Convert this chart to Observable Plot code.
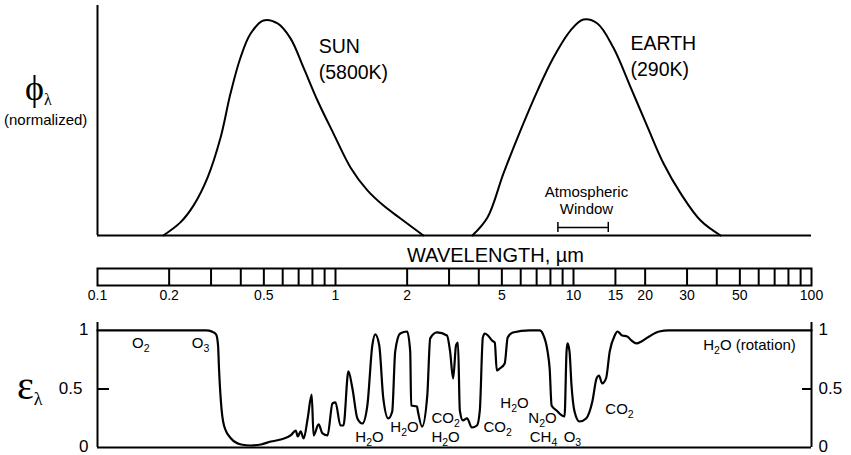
<!DOCTYPE html>
<html><head><meta charset="utf-8">
<script src="https://cdn.jsdelivr.net/npm/d3@7"></script>
<script src="https://cdn.jsdelivr.net/npm/@observablehq/plot@0.6"></script>
<style>
body{margin:0;background:#fff;}
#chart{position:relative;width:851px;height:455px;font-family:"Liberation Sans",Arial,Helvetica,sans-serif;color:#000;overflow:hidden}
#chart svg{display:block}
.lab{position:absolute;line-height:1;white-space:nowrap;color:#000}
.sym{font-family:"Liberation Serif","DejaVu Serif",serif}
</style></head><body><div id="chart"></div>
<script>
// Sun (5800K) normalized spectrum
const sunWavelength = [0.189,0.223,0.253,0.290,0.329,0.362,0.399,0.440,0.498,0.571,0.647,0.734,0.840,0.981,1.156,1.362,1.591,1.876,2.34];
const sunFlux =       [0,0.057,0.13,0.252,0.426,0.617,0.774,0.878,0.935,0.922,0.857,0.730,0.587,0.443,0.296,0.196,0.130,0.074,0];
// Earth (290K) normalized spectrum
const earthWavelength = [3.76,4.35,5.08,5.99,7.06,8.24,9.71,11.0,12.6,14.7,17.4,20.5,23.9,28.2,34.2,41.5];
const earthFlux =       [0,0.078,0.270,0.457,0.630,0.774,0.891,0.939,0.922,0.817,0.643,0.470,0.313,0.183,0.065,0];
// Atmospheric absorptivity
const absWavelength = [0.1,0.286,0.303,0.315,0.321,0.324,0.330,0.340,0.364,0.401,
  0.441,0.486,0.535,0.589,0.648,0.681,0.694,0.714,0.735,0.764,
  0.794,0.809,0.849,0.882,0.926,0.971,1.0,1.049,1.080,1.133,
  1.178,1.236,1.297,1.361,1.428,1.469,1.527,1.588,1.666,1.731,
  1.782,1.870,2.0,2.06,2.08,2.20,2.22,2.31,2.43,2.50,
  2.67,2.94,3.03,3.12,3.21,3.27,3.33,3.43,3.57,3.74,
  3.93,4.04,4.16,4.24,4.37,4.54,4.67,4.76,4.90,5.14,
  5.29,5.56,6.55,7.21,7.42,7.78,7.94,8.09,8.49,9.17,
  9.35,9.44,9.62,9.81,10.1,10.6,11.3,12.0,12.5,12.8,
  13.2,13.7,14.2,14.9,15.3,16.0,16.8,17.5,18.4,19.3,
  20.8,22.9,25.2,100];
const absorptivity = [1,1,0.99,0.966,0.872,0.675,0.393,0.188,0.077,0.026,
  0.017,0.026,0.051,0.068,0.103,0.145,0.094,0.137,0.077,0.248,
  0.453,0.103,0.197,0.120,0.103,0.376,0.385,0.188,0.188,0.650,
  0.504,0.248,0.205,0.359,0.872,0.966,0.872,0.419,0.248,0.308,
  0.821,0.974,0.991,0.821,0.359,0.350,0.308,0.179,0.444,0.932,
  0.983,0.957,0.821,0.590,0.872,0.897,0.316,0.231,0.248,0.171,
  0.188,0.316,0.940,0.974,0.957,0.915,0.897,0.658,0.675,0.718,
  0.940,0.983,1.0,1.0,0.974,0.821,0.675,0.359,0.316,0.265,
  0.821,0.889,0.821,0.530,0.308,0.222,0.248,0.393,0.590,0.615,
  0.547,0.590,0.821,0.957,0.991,0.957,0.949,0.915,0.889,0.906,
  0.949,0.991,1.0,1];
// wavelength scale bar
const scaleTicks = [0.2,0.3,0.4,0.5,0.6,0.7,0.8,0.9,1,2,3,4,5,6,7,8,9,10,15,20,30,40,50,60,70,80,90];
const scaleLabels = [0.1,0.2,0.5,1,2,5,10,15,20,30,50,100];
const scaleTitle = "WAVELENGTH, µm";
// labels
const peakLabels = ["SUN\n(5800K)","EARTH\n(290K)"];
const peakLabelWavelength = [0.85,17.35];
const peakLabelFlux = [0.87,0.883];
const windowRange = [8.6,14];
const windowLabel = "Atmospheric\nWindow";
const gasLabels = ["O₂","O₃","H₂O","H₂O","CO₂","H₂O","CO₂","H₂O","N₂O","CH₄","O₃","CO₂","H₂O (rotation)"];
const gasWavelength = [0.152,0.271,1.39,1.95,2.90,2.90,4.80,5.65,7.41,7.48,9.9,15.6,54.9];
const gasAbsorptivity = [0.889,0.889,0.085,0.171,0.248,0.085,0.171,0.376,0.248,0.085,0.085,0.325,0.872];
const epsTicksOuter = [0,1];
const epsTicksMid = [0.5];

const W = 851, ML = 97, MR = 40;
const font = '"Liberation Sans", Arial, Helvetica, sans-serif';
const style = {fontFamily: font, color: "#000", background: "transparent", overflow: "visible"};
const xs = () => ({type: "log", domain: [0.1, 100]});
const fmt = d => `${d}`;

const sun = sunWavelength.map((w, i) => ({w, f: sunFlux[i]}));
const earth = earthWavelength.map((w, i) => ({w, f: earthFlux[i]}));
const abs = absWavelength.map((w, i) => ({w, e: absorptivity[i]}));
const peaks = peakLabels.map((t, i) => ({t, w: peakLabelWavelength[i], f: peakLabelFlux[i]}));
const gases = gasLabels.map((t, i) => ({t, w: gasWavelength[i], e: gasAbsorptivity[i]}));

const topPlot = Plot.plot({
  width: W, height: 240, marginLeft: ML, marginRight: MR, marginTop: 5, marginBottom: 5,
  x: {...xs(), axis: null}, y: {domain: [0, 1], axis: null}, style,
  marks: [
    Plot.ruleX([0.1], {strokeWidth: 2}),
    Plot.ruleY([0], {strokeWidth: 2}),
    Plot.line(sun, {x: "w", y: "f", curve: "catmull-rom", strokeWidth: 2}),
    Plot.line(earth, {x: "w", y: "f", curve: "catmull-rom", strokeWidth: 2}),
    Plot.text(peaks, {x: "w", y: "f", text: "t", textAnchor: "start", lineAnchor: "top", lineHeight: 1.3, fontSize: 19.5}),
    Plot.text([windowLabel], {x: 11.34, y: 0.217, text: d => d, lineAnchor: "top", lineHeight: 1.1, fontSize: 15}),
    Plot.ruleY([0.035], {x1: windowRange[0], x2: windowRange[1], strokeWidth: 1.5}),
    Plot.ruleX(windowRange, {x: d => d, y1: 0.013, y2: 0.057, strokeWidth: 1.5})
  ]
});

const barPlot = Plot.plot({
  width: W, height: 70, marginLeft: ML, marginRight: MR, marginTop: 28, marginBottom: 25,
  x: {...xs(), axis: null}, style,
  marks: [
    Plot.frame({strokeWidth: 2}),
    Plot.tickX(scaleTicks, {x: d => d, strokeWidth: 2}),
    Plot.text(scaleLabels, {x: d => d, text: fmt, frameAnchor: "bottom", dy: 14, fontSize: 14}),
    Plot.text([scaleTitle], {x: 4.7, frameAnchor: "top", dy: -21, text: d => d, fontSize: 20})
  ]
});

const botPlot = Plot.plot({
  width: W, height: 145, marginLeft: ML, marginRight: MR, marginTop: 12, marginBottom: 8,
  x: {...xs(), axis: null}, y: {domain: [0, 1.068]}, style,
  marks: [
    Plot.ruleX([0.1, 100], {strokeWidth: 2}),
    Plot.ruleY([0], {strokeWidth: 2}),
    Plot.axisY(epsTicksOuter, {anchor: "left", tickSize: 0, tickPadding: 9, fontSize: 17, dy: -1, tickFormat: fmt, label: null}),
    Plot.axisY(epsTicksMid, {anchor: "left", tickSize: -12, tickPadding: 27, fontSize: 17, strokeWidth: 2, tickFormat: fmt, label: null}),
    Plot.axisY(epsTicksOuter, {anchor: "right", tickSize: 0, tickPadding: 7, fontSize: 17, dy: -1, tickFormat: fmt, label: null}),
    Plot.axisY(epsTicksMid, {anchor: "right", tickSize: -10, tickPadding: 17, fontSize: 17, strokeWidth: 2, tickFormat: fmt, label: null}),
    Plot.line(abs, {x: "w", y: "e", curve: "monotone-x", strokeWidth: 2.2}),
    Plot.text(gases, {x: "w", y: "e", text: "t", fontSize: 15})
  ]
});

const chart = document.getElementById("chart");
chart.append(topPlot, barPlot, botPlot);

// render Unicode subscript digits as real subscripts (smaller, lowered)
const subMap = {"₀":"0","₁":"1","₂":"2","₃":"3","₄":"4","₅":"5","₆":"6","₇":"7","₈":"8","₉":"9"};
d3.select(botPlot).selectAll("text").each(function () {
  const el = this;
  if (el.querySelector("tspan")) return;
  const s = el.textContent;
  if (!/[₀-₉]/.test(s)) return;
  el.textContent = "";
  let shifted = false;
  for (const ch of s) {
    const sub = subMap[ch];
    const t = document.createElementNS("http://www.w3.org/2000/svg", "tspan");
    if (sub) {
      t.textContent = sub; t.setAttribute("font-size", "10.5"); t.setAttribute("dy", shifted ? "0" : "4");
      shifted = true;
    } else {
      t.textContent = ch; if (shifted) { t.setAttribute("dy", "-4"); shifted = false; }
    }
    el.appendChild(t);
  }
});

function addLabel(html, left, top, size, cls) {
  const d = document.createElement("div");
  d.className = "lab " + (cls || "");
  d.style.left = left + "px"; d.style.top = top + "px"; d.style.fontSize = size + "px";
  d.innerHTML = html;
  chart.appendChild(d);
}
addLabel('ϕ<span style="font-size:16px;position:relative;top:5px">λ</span>', 25, 70, 36, "sym");
addLabel('(normalized)', 4, 112, 15);
addLabel('ε<span style="font-size:18px;position:relative;top:6px">λ</span>', 17, 366, 40, "sym");
</script>
</body></html>
